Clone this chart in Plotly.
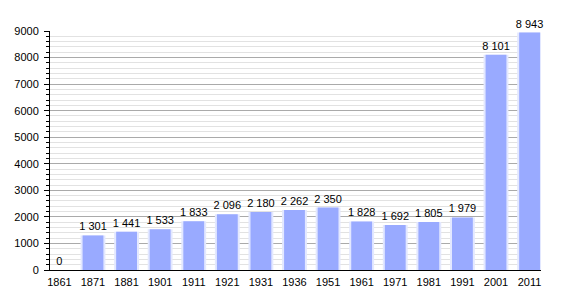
import plotly.graph_objects as go

years = ["1861", "1871", "1881", "1901", "1911", "1921", "1931", "1936", "1951",
         "1961", "1971", "1981", "1991", "2001", "2011"]
population = [0, 1301, 1441, 1533, 1833, 2096, 2180, 2262, 2350,
              1828, 1692, 1805, 1979, 8101, 8943]
labels = [f"{v:,}".replace(",", " ") for v in population]

fig = go.Figure()
fig.add_trace(go.Bar(
    x=years, y=population, width=0.74,
    marker=dict(color="#e3e8ff", line=dict(width=0)),
    hoverinfo="skip", showlegend=False,
))
fig.add_trace(go.Bar(
    x=years, y=population, width=0.62,
    marker=dict(color="#99aaff", line=dict(width=0)),
    text=labels, textposition="outside", cliponaxis=False,
    constraintext="none",
    textfont=dict(family="Liberation Sans, Arial", size=11, color="black"),
    showlegend=False,
))
fig.update_layout(
    width=570, height=300, barmode="overlay",
    margin=dict(l=50, r=29, t=31, b=30),
    paper_bgcolor="white", plot_bgcolor="white",
    font=dict(family="Liberation Sans, Arial", size=11, color="black"),
)
fig.update_xaxes(
    type="category", range=[-0.28, 14.34],
    showline=True, linecolor="black", linewidth=1,
    ticks="", showgrid=False, tickfont=dict(size=11), ticklabelstandoff=2,
)
fig.update_yaxes(
    range=[0, 9000], dtick=1000, showline=True, linecolor="black", linewidth=1,
    ticks="outside", ticklen=5, tickcolor="black",
    showgrid=True, gridcolor="#aaaaaa", gridwidth=1,
    minor=dict(dtick=200, showgrid=True, gridcolor="#e2e2e2", ticks="outside",
               ticklen=3, tickcolor="black"),
    zeroline=False, tickfont=dict(size=11), ticklabelstandoff=3,
)
fig.write_html("out.html")
